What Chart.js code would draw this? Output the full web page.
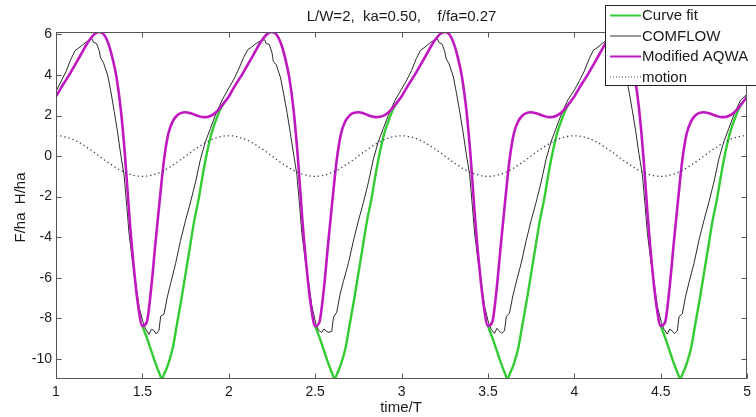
<!DOCTYPE html>
<html>
<head>
<meta charset="utf-8">
<script src="https://cdn.jsdelivr.net/npm/chart.js@4.4.1/dist/chart.umd.min.js"></script>
<style>
  html, body { margin: 0; padding: 0; background: #fff; }
  canvas { display: block; }
</style>
</head>
<body>
<canvas id="chart" width="756" height="417"></canvas>
<script>
// time/T grid shared by the AQWA and motion series
const time = [
  1, 1.025, 1.05, 1.075, 1.1, 1.125, 1.15, 1.175, 1.2, 1.225,
  1.25, 1.275, 1.3, 1.325, 1.35, 1.375, 1.4, 1.425, 1.45, 1.475,
  1.5, 1.525, 1.55, 1.575, 1.6, 1.625, 1.65, 1.675, 1.7, 1.725,
  1.75, 1.775, 1.8, 1.825, 1.85, 1.875, 1.9, 1.925, 1.95, 1.975,
  2, 2.025, 2.05, 2.075, 2.1, 2.125, 2.15, 2.175, 2.2, 2.225,
  2.25, 2.275, 2.3, 2.325, 2.35, 2.375, 2.4, 2.425, 2.45, 2.475,
  2.5, 2.525, 2.55, 2.575, 2.6, 2.625, 2.65, 2.675, 2.7, 2.725,
  2.75, 2.775, 2.8, 2.825, 2.85, 2.875, 2.9, 2.925, 2.95, 2.975,
  3, 3.025, 3.05, 3.075, 3.1, 3.125, 3.15, 3.175, 3.2, 3.225,
  3.25, 3.275, 3.3, 3.325, 3.35, 3.375, 3.4, 3.425, 3.45, 3.475,
  3.5, 3.525, 3.55, 3.575, 3.6, 3.625, 3.65, 3.675, 3.7, 3.725,
  3.75, 3.775, 3.8, 3.825, 3.85, 3.875, 3.9, 3.925, 3.95, 3.975,
  4, 4.025, 4.05, 4.075, 4.1, 4.125, 4.15, 4.175, 4.2, 4.225,
  4.25, 4.275, 4.3, 4.325, 4.35, 4.375, 4.4, 4.425, 4.45, 4.475,
  4.5, 4.525, 4.55, 4.575, 4.6, 4.625, 4.65, 4.675, 4.7, 4.725,
  4.75, 4.775, 4.8, 4.825, 4.85, 4.875, 4.9, 4.925, 4.95, 4.975,
  5
];

// Modified AQWA (F/ha)
const aqwa = [
  2.94, 3.30, 3.65, 3.98, 4.35, 4.72, 5.10, 5.48, 5.80, 6.03,
  6.12, 6.02, 5.62, 4.90, 3.90, 2.30, -0.05, -3.00, -5.45, -7.35,
  -8.38, -8.20, -6.60, -4.35, -2.20, -0.20, 1.10, 1.70, 2.00, 2.13,
  2.16, 2.12, 2.05, 1.97, 1.92, 1.93, 2.00, 2.15, 2.38, 2.65,
  2.94, 3.31, 3.66, 3.99, 4.36, 4.73, 5.11, 5.49, 5.81, 6.04,
  6.12, 6.01, 5.60, 4.88, 3.88, 2.28, -0.08, -3.05, -5.48, -7.36,
  -8.39, -8.18, -6.58, -4.33, -2.18, -0.18, 1.12, 1.72, 2.01, 2.14,
  2.16, 2.12, 2.04, 1.96, 1.92, 1.94, 2.01, 2.16, 2.39, 2.66,
  2.94, 3.30, 3.65, 3.98, 4.35, 4.72, 5.10, 5.48, 5.80, 6.03,
  6.12, 6.02, 5.61, 4.89, 3.89, 2.29, -0.06, -3.02, -5.46, -7.35,
  -8.38, -8.19, -6.59, -4.34, -2.19, -0.19, 1.11, 1.71, 2.00, 2.13,
  2.16, 2.12, 2.05, 1.97, 1.92, 1.93, 2.00, 2.15, 2.38, 2.65,
  2.94, 3.30, 3.65, 3.98, 4.35, 4.72, 5.10, 5.48, 5.80, 6.03,
  6.12, 6.02, 5.62, 4.90, 3.90, 2.30, -0.05, -3.00, -5.45, -7.35,
  -8.38, -8.20, -6.60, -4.35, -2.20, -0.20, 1.10, 1.70, 2.00, 2.13,
  2.16, 2.12, 2.05, 1.97, 1.92, 1.93, 2.00, 2.15, 2.38, 2.65,
  2.94
];

// motion (H/ha)
const motion = [
  1.00, 0.99, 0.95, 0.89, 0.81, 0.71, 0.59, 0.45, 0.31, 0.16,
  0.00, -0.16, -0.31, -0.45, -0.59, -0.71, -0.81, -0.89, -0.95, -0.99,
  -1.00, -0.99, -0.95, -0.89, -0.81, -0.71, -0.59, -0.45, -0.31, -0.16,
  0.00, 0.16, 0.31, 0.45, 0.59, 0.71, 0.81, 0.89, 0.95, 0.99,
  1.00, 0.99, 0.95, 0.89, 0.81, 0.71, 0.59, 0.45, 0.31, 0.16,
  0.00, -0.16, -0.31, -0.45, -0.59, -0.71, -0.81, -0.89, -0.95, -0.99,
  -1.00, -0.99, -0.95, -0.89, -0.81, -0.71, -0.59, -0.45, -0.31, -0.16,
  0.00, 0.16, 0.31, 0.45, 0.59, 0.71, 0.81, 0.89, 0.95, 0.99,
  1.00, 0.99, 0.95, 0.89, 0.81, 0.71, 0.59, 0.45, 0.31, 0.16,
  0.00, -0.16, -0.31, -0.45, -0.59, -0.71, -0.81, -0.89, -0.95, -0.99,
  -1.00, -0.99, -0.95, -0.89, -0.81, -0.71, -0.59, -0.45, -0.31, -0.16,
  0.00, 0.16, 0.31, 0.45, 0.59, 0.71, 0.81, 0.89, 0.95, 0.99,
  1.00, 0.99, 0.95, 0.89, 0.81, 0.71, 0.59, 0.45, 0.31, 0.16,
  0.00, -0.16, -0.31, -0.45, -0.59, -0.71, -0.81, -0.89, -0.95, -0.99,
  -1.00, -0.99, -0.95, -0.89, -0.81, -0.71, -0.59, -0.45, -0.31, -0.16,
  0.00, 0.16, 0.31, 0.45, 0.59, 0.71, 0.81, 0.89, 0.95, 0.99,
  1.00
];

// Curve fit: only where it leaves the AQWA curve (null breaks the line)
const fitTime = [
  1.5, 1.525, 1.55, 1.575, 1.6, 1.6125, 1.625, 1.65, 1.675, 1.7, 1.725,
  1.75, 1.775, 1.8, 1.825, 1.85, 1.875, 1.9, 1.925, 1.95, 1.975, 1.99,
  2.5, 2.525, 2.55, 2.575, 2.6, 2.6125, 2.625, 2.65, 2.675, 2.7, 2.725,
  2.75, 2.775, 2.8, 2.825, 2.85, 2.875, 2.9, 2.925, 2.95, 2.975, 2.99,
  3.5, 3.525, 3.55, 3.575, 3.6, 3.6125, 3.625, 3.65, 3.675, 3.7, 3.725,
  3.75, 3.775, 3.8, 3.825, 3.85, 3.875, 3.9, 3.925, 3.95, 3.975, 3.99,
  4.5, 4.525, 4.55, 4.575, 4.6, 4.6125, 4.625, 4.65, 4.675, 4.7, 4.725,
  4.75, 4.775, 4.8, 4.825, 4.85, 4.875, 4.9, 4.925, 4.95, 4.975
];
const fitValue = [
  -8.38, -8.95, -9.57, -10.2, -10.75, -11.0, -10.78, -10.25, -9.5, -8.3, -7.1,
  -5.8, -4.5, -3.2, -2.15, -0.9, 0.21, 1.12, 1.75, 2.3, 2.65, null,
  -8.39, -8.95, -9.57, -10.2, -10.75, -11.0, -10.78, -10.25, -9.5, -8.3, -7.1,
  -5.8, -4.5, -3.2, -2.15, -0.9, 0.21, 1.12, 1.75, 2.3, 2.66, null,
  -8.38, -8.95, -9.57, -10.2, -10.75, -11.0, -10.78, -10.25, -9.5, -8.3, -7.1,
  -5.8, -4.5, -3.2, -2.15, -0.9, 0.21, 1.12, 1.75, 2.3, 2.65, null,
  -8.38, -8.95, -9.57, -10.2, -10.75, -11.0, -10.78, -10.25, -9.5, -8.3, -7.1,
  -5.8, -4.5, -3.2, -2.15, -0.9, 0.21, 1.12, 1.75, 2.3, 2.65
];

// COMFLOW (F/ha), uneven sampling to keep the ripples
const comflowTime = [
  1.000, 1.030, 1.058, 1.085, 1.110, 1.130, 1.150, 1.170, 1.190, 1.208,
  1.216, 1.235, 1.250, 1.258, 1.275, 1.300, 1.318, 1.337, 1.356, 1.375,
  1.394, 1.410, 1.423, 1.442, 1.462, 1.481, 1.504, 1.519, 1.538, 1.552,
  1.565, 1.580, 1.596, 1.606, 1.625, 1.644, 1.663, 1.692, 1.721, 1.750,
  1.779, 1.808, 1.837, 1.865, 1.894, 1.923, 1.962,
  2.000, 2.030, 2.058, 2.085, 2.110, 2.130, 2.150, 2.170, 2.190, 2.208,
  2.216, 2.235, 2.250, 2.258, 2.275, 2.300, 2.318, 2.337, 2.356, 2.375,
  2.394, 2.410, 2.423, 2.442, 2.462, 2.481, 2.504, 2.519, 2.538, 2.552,
  2.565, 2.580, 2.596, 2.606, 2.625, 2.644, 2.663, 2.692, 2.721, 2.750,
  2.779, 2.808, 2.837, 2.865, 2.894, 2.923, 2.962,
  3.000, 3.030, 3.058, 3.085, 3.110, 3.130, 3.150, 3.170, 3.190, 3.208,
  3.216, 3.235, 3.250, 3.258, 3.275, 3.300, 3.318, 3.337, 3.356, 3.375,
  3.394, 3.410, 3.423, 3.442, 3.462, 3.481, 3.504, 3.519, 3.538, 3.552,
  3.565, 3.580, 3.596, 3.606, 3.625, 3.644, 3.663, 3.692, 3.721, 3.750,
  3.779, 3.808, 3.837, 3.865, 3.894, 3.923, 3.962,
  4.000, 4.030, 4.058, 4.085, 4.110, 4.130, 4.150, 4.170, 4.190, 4.208,
  4.216, 4.235, 4.250, 4.258, 4.275, 4.300, 4.318, 4.337, 4.356, 4.375,
  4.394, 4.410, 4.423, 4.442, 4.462, 4.481, 4.504, 4.519, 4.538, 4.552,
  4.565, 4.580, 4.596, 4.606, 4.625, 4.644, 4.663, 4.692, 4.721, 4.750,
  4.779, 4.808, 4.837, 4.865, 4.894, 4.923, 4.962,
  5.000
];
const comflowValue = [
  3.20, 3.70, 4.17, 4.75, 5.20, 5.32, 5.45, 5.60, 5.70, 5.80,
  5.62, 5.55, 5.20, 4.85, 4.60, 3.95, 3.15, 2.20, 1.20, 0.05,
  -0.94, -2.50, -3.83, -5.15, -6.30, -7.46, -8.20, -8.53, -8.80, -8.55,
  -8.60, -8.78, -8.60, -7.90, -7.80, -6.96, -6.30, -5.31, -4.16, -3.17,
  -2.26, -1.27, -0.12, 0.71, 1.37, 2.03, 2.77,
  3.35, 3.80, 4.30, 4.85, 5.25, 5.36, 5.50, 5.62, 5.69, 5.74,
  5.55, 5.50, 5.10, 4.67, 4.50, 3.85, 3.05, 2.15, 1.15, 0.10,
  -0.90, -2.45, -3.80, -5.10, -6.25, -7.40, -8.28, -8.60, -8.70, -8.53,
  -8.65, -8.70, -8.65, -7.95, -7.70, -6.83, -6.20, -5.30, -4.20, -3.20,
  -2.30, -1.30, -0.15, 0.70, 1.35, 2.00, 2.75,
  3.30, 3.75, 4.22, 4.80, 5.22, 5.34, 5.48, 5.62, 5.72, 5.78,
  5.60, 5.52, 5.15, 4.80, 4.55, 3.90, 3.10, 2.18, 1.18, 0.08,
  -0.92, -2.48, -3.82, -5.12, -6.28, -7.44, -8.25, -8.55, -8.75, -8.50,
  -8.62, -8.75, -8.62, -7.92, -7.75, -6.90, -6.25, -5.30, -4.18, -3.18,
  -2.28, -1.28, -0.14, 0.70, 1.36, 2.02, 2.76,
  3.25, 3.72, 4.20, 4.78, 5.22, 5.33, 5.47, 5.61, 5.71, 5.79,
  5.60, 5.53, 5.18, 4.82, 4.58, 3.92, 3.12, 2.18, 1.18, 0.06,
  -0.93, -2.48, -3.82, -5.13, -6.28, -7.44, -8.22, -8.55, -8.78, -8.54,
  -8.62, -8.76, -8.62, -7.92, -7.78, -6.92, -6.26, -5.31, -4.17, -3.18,
  -2.27, -1.28, -0.13, 0.70, 1.36, 2.02, 2.76,
  3.05
];

const xTicks = [1, 1.5, 2, 2.5, 3, 3.5, 4, 4.5, 5];
const yTicks = [-10, -8, -6, -4, -2, 0, 2, 4, 6];

const legendItems = [
  { label: "Curve fit", color: "#33cc33", width: 2, dash: [] },
  { label: "COMFLOW", color: "#333333", width: 1, dash: [] },
  { label: "Modified AQWA", color: "#c018c0", width: 2, dash: [] },
  { label: "motion", color: "#444466", width: 1, dash: [1, 2] },
];

const FONT = "'Liberation Sans', Arial, sans-serif";
const TEXT = "#1a1a1a";

const toPoints = (xs, ys) => xs.map((x, i) => ({ x, y: ys[i] }));

// box, inward ticks, title, axis titles and the legend
const framePlugin = {
  id: "frame",
  afterDraw(chart) {
    const { ctx, chartArea: a, scales } = chart;
    const L = Math.round(a.left) + 0.5;
    const R = Math.round(a.right) - 0.5;
    const T = Math.round(a.top) + 0.5;
    const B = Math.round(a.bottom) - 0.5;
    ctx.save();
    ctx.strokeStyle = "#555";
    ctx.lineWidth = 1;
    ctx.strokeRect(L, T, R - L, B - T);

    ctx.beginPath();
    xTicks.forEach((v) => {
      const px = Math.round(scales.x.getPixelForValue(v)) + 0.5;
      ctx.moveTo(px, B); ctx.lineTo(px, B - 5);
      ctx.moveTo(px, T); ctx.lineTo(px, T + 5);
    });
    yTicks.forEach((v) => {
      const py = Math.round(scales.y.getPixelForValue(v)) + 0.5;
      ctx.moveTo(L, py); ctx.lineTo(L + 5, py);
      ctx.moveTo(R, py); ctx.lineTo(R - 5, py);
    });
    ctx.stroke();

    ctx.fillStyle = TEXT;
    ctx.font = `15px ${FONT}`;
    ctx.textAlign = "center";
    ctx.textBaseline = "alphabetic";
    ctx.fillText("L/W=2,  ka=0.50,    f/fa=0.27", (a.left + a.right) / 2, 21);
    ctx.fillText("time/T", 401, 412);

    ctx.save();
    ctx.translate(25, (a.top + a.bottom) / 2 + 2);
    ctx.rotate(-Math.PI / 2);
    ctx.fillText("F/ha  H/ha", 0, 0);
    ctx.restore();

    // legend box (runs past the right edge of the canvas)
    ctx.fillStyle = "#fff";
    ctx.fillRect(605.5, 5.5, 170, 80);
    ctx.strokeStyle = "#222";
    ctx.strokeRect(605.5, 5.5, 170, 80);
    legendItems.forEach((item, i) => {
      const ly = 15.5 + i * 20.5;
      ctx.beginPath();
      ctx.strokeStyle = item.color;
      ctx.lineWidth = item.width;
      ctx.setLineDash(item.dash);
      ctx.moveTo(610, ly);
      ctx.lineTo(641, ly);
      ctx.stroke();
      ctx.setLineDash([]);
      ctx.fillStyle = TEXT;
      ctx.textAlign = "left";
      ctx.textBaseline = "middle";
      ctx.fillText(item.label, 642, ly + 0.5);
    });
    ctx.restore();
  },
};

new Chart(document.getElementById("chart"), {
  type: "line",
  data: {
    datasets: [
      {
        label: "Curve fit",
        data: toPoints(fitTime, fitValue),
        borderColor: "#33cc33",
        borderWidth: 2.4,
        cubicInterpolationMode: "monotone",
        order: 3,
      },
      {
        label: "COMFLOW",
        data: toPoints(comflowTime, comflowValue),
        borderColor: "#2a2a2a",
        borderWidth: 1,
        tension: 0,
        order: 2,
      },
      {
        label: "Modified AQWA",
        data: toPoints(time, aqwa),
        borderColor: "#c018c0",
        borderWidth: 2.6,
        cubicInterpolationMode: "monotone",
        order: 1,
      },
      {
        label: "motion",
        data: toPoints(time, motion),
        borderColor: "#3a3a5a",
        borderWidth: 1.3,
        borderDash: [1.3, 2.9],
        cubicInterpolationMode: "monotone",
        order: 0,
      },
    ],
  },
  options: {
    responsive: false,
    animation: false,
    events: [],
    layout: { padding: { top: 32, right: 6, left: 0, bottom: 0 } },
    elements: { point: { radius: 0 } },
    plugins: { legend: { display: false }, tooltip: { enabled: false }, title: { display: false } },
    scales: {
      x: {
        type: "linear",
        min: 1,
        max: 5,
        grid: { display: false, drawTicks: false },
        border: { display: false },
        afterBuildTicks: (s) => { s.ticks = xTicks.map((value) => ({ value })); },
        afterFit: (s) => { s.height = 38; },
        ticks: {
          padding: 5,
          maxRotation: 0,
          autoSkip: false,
          color: TEXT,
          font: { family: FONT, size: 14 },
          callback: (v) => String(v),
        },
      },
      y: {
        min: -11,
        max: 6.12,
        grid: { display: false, drawTicks: false },
        border: { display: false },
        afterBuildTicks: (s) => { s.ticks = yTicks.map((value) => ({ value })); },
        afterFit: (s) => { s.width = 56; },
        ticks: {
          padding: 4,
          autoSkip: false,
          color: TEXT,
          font: { family: FONT, size: 14 },
          callback: (v) => String(v),
        },
      },
    },
  },
  plugins: [framePlugin],
});
</script>
</body>
</html>
